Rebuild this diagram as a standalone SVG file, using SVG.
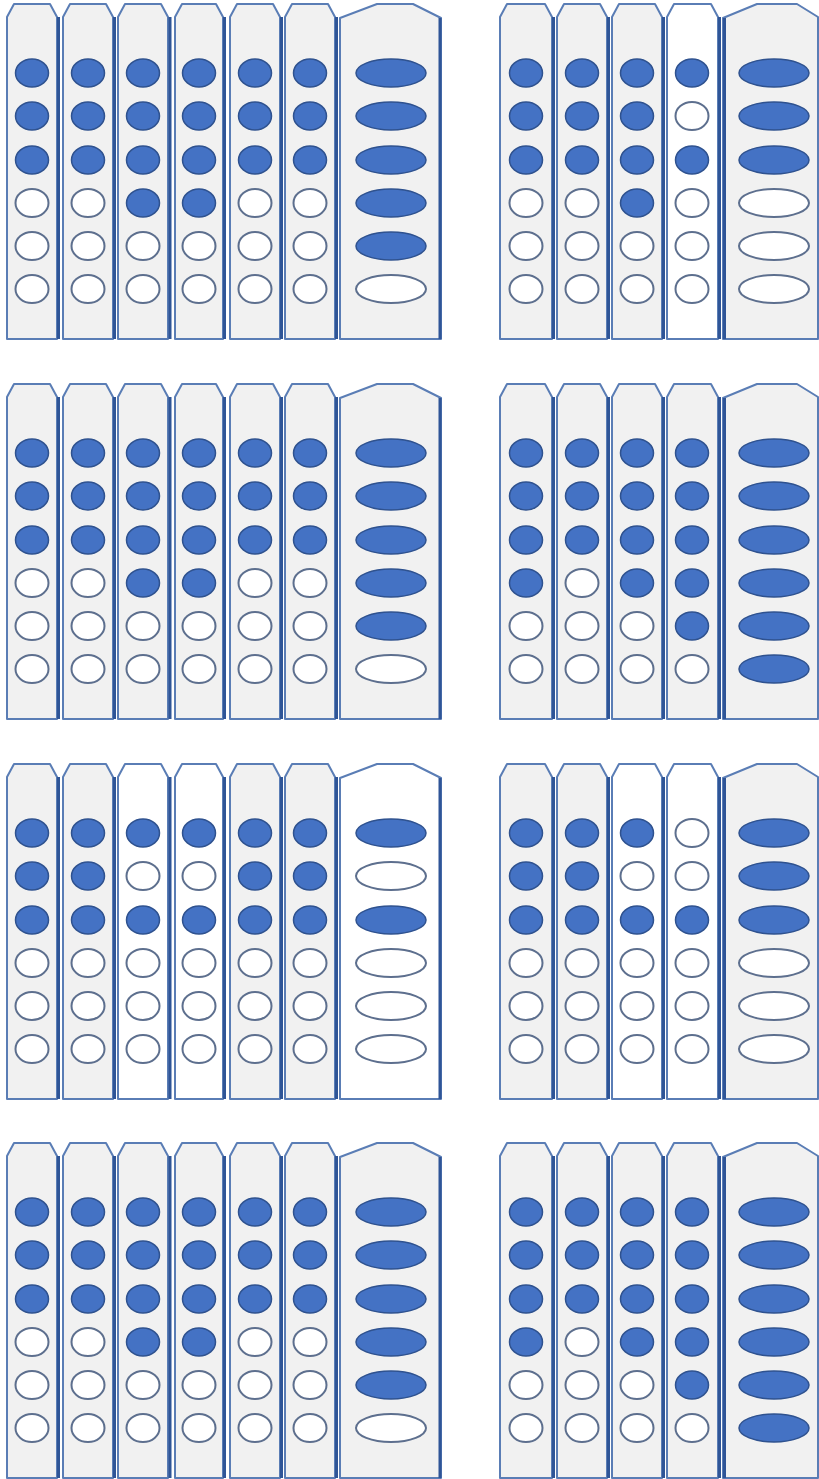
<svg xmlns="http://www.w3.org/2000/svg" xmlns:xlink="http://www.w3.org/1999/xlink" width="819" height="1479" viewBox="0 0 819 1479">
<style>
.col{fill:#f1f1f1;stroke:#5a7db5;stroke-width:2;stroke-linejoin:round}
.w{fill:#ffffff}
.sh{stroke:#2f5597;stroke-width:3;fill:none}
.f{fill:#4472c4;stroke:#2f528f;stroke-width:1.5}
.e{fill:#ffffff;stroke:#5d6f8e;stroke-width:2}
</style>
<defs>
<g id="PL">
<g id="L1"><path class="col" d="M7,339V17L14,4H50L57,17V339Z"/><line class="sh" x1="58.5" y1="17" x2="58.5" y2="339"/>
<ellipse class="f" cx="32" cy="73" rx="16.5" ry="14"/><ellipse class="f" cx="32" cy="116" rx="16.5" ry="14"/><ellipse class="f" cx="32" cy="160" rx="16.5" ry="14"/><ellipse class="e" cx="32" cy="203" rx="16.5" ry="14"/><ellipse class="e" cx="32" cy="246" rx="16.5" ry="14"/><ellipse class="e" cx="32" cy="289" rx="16.5" ry="14"/></g>
<g id="L2"><path class="col" d="M63,339V17L70,4H106L113,17V339Z"/><line class="sh" x1="114.5" y1="17" x2="114.5" y2="339"/>
<ellipse class="f" cx="88" cy="73" rx="16.5" ry="14"/><ellipse class="f" cx="88" cy="116" rx="16.5" ry="14"/><ellipse class="f" cx="88" cy="160" rx="16.5" ry="14"/><ellipse class="e" cx="88" cy="203" rx="16.5" ry="14"/><ellipse class="e" cx="88" cy="246" rx="16.5" ry="14"/><ellipse class="e" cx="88" cy="289" rx="16.5" ry="14"/></g>
</g>
</defs>

<!-- Panel 1 left -->
<g id="p1L">
<use xlink:href="#PL"/>
<g id="p1L-c3"><path class="col" d="M118,339V17L125,4H161L168,17V339Z"/><line class="sh" x1="170" y1="17" x2="170" y2="339"/>
<ellipse class="f" cx="143" cy="73" rx="16.5" ry="14"/><ellipse class="f" cx="143" cy="116" rx="16.5" ry="14"/><ellipse class="f" cx="143" cy="160" rx="16.5" ry="14"/><ellipse class="f" cx="143" cy="203" rx="16.5" ry="14"/><ellipse class="e" cx="143" cy="246" rx="16.5" ry="14"/><ellipse class="e" cx="143" cy="289" rx="16.5" ry="14"/></g>
<g id="p1L-c4"><path class="col" d="M175,339V17L182,4H216L223,17V339Z"/><line class="sh" x1="224.5" y1="17" x2="224.5" y2="339"/>
<ellipse class="f" cx="199" cy="73" rx="16.5" ry="14"/><ellipse class="f" cx="199" cy="116" rx="16.5" ry="14"/><ellipse class="f" cx="199" cy="160" rx="16.5" ry="14"/><ellipse class="f" cx="199" cy="203" rx="16.5" ry="14"/><ellipse class="e" cx="199" cy="246" rx="16.5" ry="14"/><ellipse class="e" cx="199" cy="289" rx="16.5" ry="14"/></g>
<g id="p1L-c5"><path class="col" d="M230,339V17L237,4H273L280,17V339Z"/><line class="sh" x1="281.5" y1="17" x2="281.5" y2="339"/>
<ellipse class="f" cx="255" cy="73" rx="16.5" ry="14"/><ellipse class="f" cx="255" cy="116" rx="16.5" ry="14"/><ellipse class="f" cx="255" cy="160" rx="16.5" ry="14"/><ellipse class="e" cx="255" cy="203" rx="16.5" ry="14"/><ellipse class="e" cx="255" cy="246" rx="16.5" ry="14"/><ellipse class="e" cx="255" cy="289" rx="16.5" ry="14"/></g>
<g id="p1L-c6"><path class="col" d="M285,339V17L292,4H328L335,17V339Z"/><line class="sh" x1="336.5" y1="17" x2="336.5" y2="339"/>
<ellipse class="f" cx="310" cy="73" rx="16.5" ry="14"/><ellipse class="f" cx="310" cy="116" rx="16.5" ry="14"/><ellipse class="f" cx="310" cy="160" rx="16.5" ry="14"/><ellipse class="e" cx="310" cy="203" rx="16.5" ry="14"/><ellipse class="e" cx="310" cy="246" rx="16.5" ry="14"/><ellipse class="e" cx="310" cy="289" rx="16.5" ry="14"/></g>
<g id="p1L-w"><path class="col" d="M340,339V18L377,4H413L441,18V339Z"/><line class="sh" x1="440" y1="18" x2="440" y2="339"/>
<ellipse class="f" cx="391" cy="73" rx="35" ry="14"/><ellipse class="f" cx="391" cy="116" rx="35" ry="14"/><ellipse class="f" cx="391" cy="160" rx="35" ry="14"/><ellipse class="f" cx="391" cy="203" rx="35" ry="14"/><ellipse class="f" cx="391" cy="246" rx="35" ry="14"/><ellipse class="e" cx="391" cy="289" rx="35" ry="14"/></g>
</g>

<!-- Panel 1 right -->
<g id="p1R">
<g id="p1R-c1"><path class="col" d="M500,339V17L507,4H545L552,17V339Z"/><line class="sh" x1="553.5" y1="17" x2="553.5" y2="339"/>
<ellipse class="f" cx="526" cy="73" rx="16.5" ry="14"/><ellipse class="f" cx="526" cy="116" rx="16.5" ry="14"/><ellipse class="f" cx="526" cy="160" rx="16.5" ry="14"/><ellipse class="e" cx="526" cy="203" rx="16.5" ry="14"/><ellipse class="e" cx="526" cy="246" rx="16.5" ry="14"/><ellipse class="e" cx="526" cy="289" rx="16.5" ry="14"/></g>
<g id="p1R-c2"><path class="col" d="M557,339V17L564,4H600L607,17V339Z"/><line class="sh" x1="608.5" y1="17" x2="608.5" y2="339"/>
<ellipse class="f" cx="582" cy="73" rx="16.5" ry="14"/><ellipse class="f" cx="582" cy="116" rx="16.5" ry="14"/><ellipse class="f" cx="582" cy="160" rx="16.5" ry="14"/><ellipse class="e" cx="582" cy="203" rx="16.5" ry="14"/><ellipse class="e" cx="582" cy="246" rx="16.5" ry="14"/><ellipse class="e" cx="582" cy="289" rx="16.5" ry="14"/></g>
<g id="p1R-c3"><path class="col" d="M612,339V17L619,4H655L662,17V339Z"/><line class="sh" x1="663.5" y1="17" x2="663.5" y2="339"/>
<ellipse class="f" cx="637" cy="73" rx="16.5" ry="14"/><ellipse class="f" cx="637" cy="116" rx="16.5" ry="14"/><ellipse class="f" cx="637" cy="160" rx="16.5" ry="14"/><ellipse class="f" cx="637" cy="203" rx="16.5" ry="14"/><ellipse class="e" cx="637" cy="246" rx="16.5" ry="14"/><ellipse class="e" cx="637" cy="289" rx="16.5" ry="14"/></g>
<g id="p1R-c4"><path class="col w" d="M667,339V17L674,4H711L718,17V339Z"/><line class="sh" x1="719.5" y1="17" x2="719.5" y2="339"/>
<ellipse class="f" cx="692" cy="73" rx="16.5" ry="14"/><ellipse class="e" cx="692" cy="116" rx="16.5" ry="14"/><ellipse class="f" cx="692" cy="160" rx="16.5" ry="14"/><ellipse class="e" cx="692" cy="203" rx="16.5" ry="14"/><ellipse class="e" cx="692" cy="246" rx="16.5" ry="14"/><ellipse class="e" cx="692" cy="289" rx="16.5" ry="14"/></g>
<g id="p1R-w"><path class="col" d="M723,339V18L757,4H797L818,17V339Z"/><line class="sh" x1="724.5" y1="18" x2="724.5" y2="339"/>
<ellipse class="f" cx="774" cy="73" rx="35" ry="14"/><ellipse class="f" cx="774" cy="116" rx="35" ry="14"/><ellipse class="f" cx="774" cy="160" rx="35" ry="14"/><ellipse class="e" cx="774" cy="203" rx="35" ry="14"/><ellipse class="e" cx="774" cy="246" rx="35" ry="14"/><ellipse class="e" cx="774" cy="289" rx="35" ry="14"/></g>
</g>

<!-- Panel 2 left (same as panel 1 left) -->
<g id="p2L" transform="translate(0,380)"><use xlink:href="#p1L"/></g>

<!-- Panel 2 right -->
<g id="p2R" transform="translate(0,380)">
<g id="p2R-c1"><path class="col" d="M500,339V17L507,4H545L552,17V339Z"/><line class="sh" x1="553.5" y1="17" x2="553.5" y2="339"/>
<ellipse class="f" cx="526" cy="73" rx="16.5" ry="14"/><ellipse class="f" cx="526" cy="116" rx="16.5" ry="14"/><ellipse class="f" cx="526" cy="160" rx="16.5" ry="14"/><ellipse class="f" cx="526" cy="203" rx="16.5" ry="14"/><ellipse class="e" cx="526" cy="246" rx="16.5" ry="14"/><ellipse class="e" cx="526" cy="289" rx="16.5" ry="14"/></g>
<g id="p2R-c2"><path class="col" d="M557,339V17L564,4H600L607,17V339Z"/><line class="sh" x1="608.5" y1="17" x2="608.5" y2="339"/>
<ellipse class="f" cx="582" cy="73" rx="16.5" ry="14"/><ellipse class="f" cx="582" cy="116" rx="16.5" ry="14"/><ellipse class="f" cx="582" cy="160" rx="16.5" ry="14"/><ellipse class="e" cx="582" cy="203" rx="16.5" ry="14"/><ellipse class="e" cx="582" cy="246" rx="16.5" ry="14"/><ellipse class="e" cx="582" cy="289" rx="16.5" ry="14"/></g>
<g id="p2R-c3"><path class="col" d="M612,339V17L619,4H655L662,17V339Z"/><line class="sh" x1="663.5" y1="17" x2="663.5" y2="339"/>
<ellipse class="f" cx="637" cy="73" rx="16.5" ry="14"/><ellipse class="f" cx="637" cy="116" rx="16.5" ry="14"/><ellipse class="f" cx="637" cy="160" rx="16.5" ry="14"/><ellipse class="f" cx="637" cy="203" rx="16.5" ry="14"/><ellipse class="e" cx="637" cy="246" rx="16.5" ry="14"/><ellipse class="e" cx="637" cy="289" rx="16.5" ry="14"/></g>
<g id="p2R-c4"><path class="col" d="M667,339V17L674,4H711L718,17V339Z"/><line class="sh" x1="719.5" y1="17" x2="719.5" y2="339"/>
<ellipse class="f" cx="692" cy="73" rx="16.5" ry="14"/><ellipse class="f" cx="692" cy="116" rx="16.5" ry="14"/><ellipse class="f" cx="692" cy="160" rx="16.5" ry="14"/><ellipse class="f" cx="692" cy="203" rx="16.5" ry="14"/><ellipse class="f" cx="692" cy="246" rx="16.5" ry="14"/><ellipse class="e" cx="692" cy="289" rx="16.5" ry="14"/></g>
<g id="p2R-w"><path class="col" d="M723,339V18L757,4H797L818,17V339Z"/><line class="sh" x1="724.5" y1="18" x2="724.5" y2="339"/>
<ellipse class="f" cx="774" cy="73" rx="35" ry="14"/><ellipse class="f" cx="774" cy="116" rx="35" ry="14"/><ellipse class="f" cx="774" cy="160" rx="35" ry="14"/><ellipse class="f" cx="774" cy="203" rx="35" ry="14"/><ellipse class="f" cx="774" cy="246" rx="35" ry="14"/><ellipse class="f" cx="774" cy="289" rx="35" ry="14"/></g>
</g>

<!-- Panel 3 left -->
<g id="p3L" transform="translate(0,760)">
<g id="p3L-c1"><path class="col" d="M7,339V17L14,4H50L57,17V339Z"/><line class="sh" x1="58.5" y1="17" x2="58.5" y2="339"/>
<ellipse class="f" cx="32" cy="73" rx="16.5" ry="14"/><ellipse class="f" cx="32" cy="116" rx="16.5" ry="14"/><ellipse class="f" cx="32" cy="160" rx="16.5" ry="14"/><ellipse class="e" cx="32" cy="203" rx="16.5" ry="14"/><ellipse class="e" cx="32" cy="246" rx="16.5" ry="14"/><ellipse class="e" cx="32" cy="289" rx="16.5" ry="14"/></g>
<g id="p3L-c2"><path class="col" d="M63,339V17L70,4H106L113,17V339Z"/><line class="sh" x1="114.5" y1="17" x2="114.5" y2="339"/>
<ellipse class="f" cx="88" cy="73" rx="16.5" ry="14"/><ellipse class="f" cx="88" cy="116" rx="16.5" ry="14"/><ellipse class="f" cx="88" cy="160" rx="16.5" ry="14"/><ellipse class="e" cx="88" cy="203" rx="16.5" ry="14"/><ellipse class="e" cx="88" cy="246" rx="16.5" ry="14"/><ellipse class="e" cx="88" cy="289" rx="16.5" ry="14"/></g>
<g id="p3L-c3"><path class="col w" d="M118,339V17L125,4H161L168,17V339Z"/><line class="sh" x1="170" y1="17" x2="170" y2="339"/>
<ellipse class="f" cx="143" cy="73" rx="16.5" ry="14"/><ellipse class="e" cx="143" cy="116" rx="16.5" ry="14"/><ellipse class="f" cx="143" cy="160" rx="16.5" ry="14"/><ellipse class="e" cx="143" cy="203" rx="16.5" ry="14"/><ellipse class="e" cx="143" cy="246" rx="16.5" ry="14"/><ellipse class="e" cx="143" cy="289" rx="16.5" ry="14"/></g>
<g id="p3L-c4"><path class="col w" d="M175,339V17L182,4H216L223,17V339Z"/><line class="sh" x1="224.5" y1="17" x2="224.5" y2="339"/>
<ellipse class="f" cx="199" cy="73" rx="16.5" ry="14"/><ellipse class="e" cx="199" cy="116" rx="16.5" ry="14"/><ellipse class="f" cx="199" cy="160" rx="16.5" ry="14"/><ellipse class="e" cx="199" cy="203" rx="16.5" ry="14"/><ellipse class="e" cx="199" cy="246" rx="16.5" ry="14"/><ellipse class="e" cx="199" cy="289" rx="16.5" ry="14"/></g>
<g id="p3L-c5"><path class="col" d="M230,339V17L237,4H273L280,17V339Z"/><line class="sh" x1="281.5" y1="17" x2="281.5" y2="339"/>
<ellipse class="f" cx="255" cy="73" rx="16.5" ry="14"/><ellipse class="f" cx="255" cy="116" rx="16.5" ry="14"/><ellipse class="f" cx="255" cy="160" rx="16.5" ry="14"/><ellipse class="e" cx="255" cy="203" rx="16.5" ry="14"/><ellipse class="e" cx="255" cy="246" rx="16.5" ry="14"/><ellipse class="e" cx="255" cy="289" rx="16.5" ry="14"/></g>
<g id="p3L-c6"><path class="col" d="M285,339V17L292,4H328L335,17V339Z"/><line class="sh" x1="336.5" y1="17" x2="336.5" y2="339"/>
<ellipse class="f" cx="310" cy="73" rx="16.5" ry="14"/><ellipse class="f" cx="310" cy="116" rx="16.5" ry="14"/><ellipse class="f" cx="310" cy="160" rx="16.5" ry="14"/><ellipse class="e" cx="310" cy="203" rx="16.5" ry="14"/><ellipse class="e" cx="310" cy="246" rx="16.5" ry="14"/><ellipse class="e" cx="310" cy="289" rx="16.5" ry="14"/></g>
<g id="p3L-w"><path class="col w" d="M340,339V18L377,4H413L441,18V339Z"/><line class="sh" x1="440" y1="18" x2="440" y2="339"/>
<ellipse class="f" cx="391" cy="73" rx="35" ry="14"/><ellipse class="e" cx="391" cy="116" rx="35" ry="14"/><ellipse class="f" cx="391" cy="160" rx="35" ry="14"/><ellipse class="e" cx="391" cy="203" rx="35" ry="14"/><ellipse class="e" cx="391" cy="246" rx="35" ry="14"/><ellipse class="e" cx="391" cy="289" rx="35" ry="14"/></g>
</g>

<!-- Panel 3 right -->
<g id="p3R" transform="translate(0,760)">
<g id="p3R-c1"><path class="col" d="M500,339V17L507,4H545L552,17V339Z"/><line class="sh" x1="553.5" y1="17" x2="553.5" y2="339"/>
<ellipse class="f" cx="526" cy="73" rx="16.5" ry="14"/><ellipse class="f" cx="526" cy="116" rx="16.5" ry="14"/><ellipse class="f" cx="526" cy="160" rx="16.5" ry="14"/><ellipse class="e" cx="526" cy="203" rx="16.5" ry="14"/><ellipse class="e" cx="526" cy="246" rx="16.5" ry="14"/><ellipse class="e" cx="526" cy="289" rx="16.5" ry="14"/></g>
<g id="p3R-c2"><path class="col" d="M557,339V17L564,4H600L607,17V339Z"/><line class="sh" x1="608.5" y1="17" x2="608.5" y2="339"/>
<ellipse class="f" cx="582" cy="73" rx="16.5" ry="14"/><ellipse class="f" cx="582" cy="116" rx="16.5" ry="14"/><ellipse class="f" cx="582" cy="160" rx="16.5" ry="14"/><ellipse class="e" cx="582" cy="203" rx="16.5" ry="14"/><ellipse class="e" cx="582" cy="246" rx="16.5" ry="14"/><ellipse class="e" cx="582" cy="289" rx="16.5" ry="14"/></g>
<g id="p3R-c3"><path class="col w" d="M612,339V17L619,4H655L662,17V339Z"/><line class="sh" x1="663.5" y1="17" x2="663.5" y2="339"/>
<ellipse class="f" cx="637" cy="73" rx="16.5" ry="14"/><ellipse class="e" cx="637" cy="116" rx="16.5" ry="14"/><ellipse class="f" cx="637" cy="160" rx="16.5" ry="14"/><ellipse class="e" cx="637" cy="203" rx="16.5" ry="14"/><ellipse class="e" cx="637" cy="246" rx="16.5" ry="14"/><ellipse class="e" cx="637" cy="289" rx="16.5" ry="14"/></g>
<g id="p3R-c4"><path class="col w" d="M667,339V17L674,4H711L718,17V339Z"/><line class="sh" x1="719.5" y1="17" x2="719.5" y2="339"/>
<ellipse class="e" cx="692" cy="73" rx="16.5" ry="14"/><ellipse class="e" cx="692" cy="116" rx="16.5" ry="14"/><ellipse class="f" cx="692" cy="160" rx="16.5" ry="14"/><ellipse class="e" cx="692" cy="203" rx="16.5" ry="14"/><ellipse class="e" cx="692" cy="246" rx="16.5" ry="14"/><ellipse class="e" cx="692" cy="289" rx="16.5" ry="14"/></g>
<g id="p3R-w"><path class="col" d="M723,339V18L757,4H797L818,17V339Z"/><line class="sh" x1="724.5" y1="18" x2="724.5" y2="339"/>
<ellipse class="f" cx="774" cy="73" rx="35" ry="14"/><ellipse class="f" cx="774" cy="116" rx="35" ry="14"/><ellipse class="f" cx="774" cy="160" rx="35" ry="14"/><ellipse class="e" cx="774" cy="203" rx="35" ry="14"/><ellipse class="e" cx="774" cy="246" rx="35" ry="14"/><ellipse class="e" cx="774" cy="289" rx="35" ry="14"/></g>
</g>

<!-- Panel 4 (same as panel 2) -->
<g id="p4L" transform="translate(0,1139)"><use xlink:href="#p1L"/></g>
<g id="p4R" transform="translate(0,759)"><use xlink:href="#p2R"/></g>
</svg>
